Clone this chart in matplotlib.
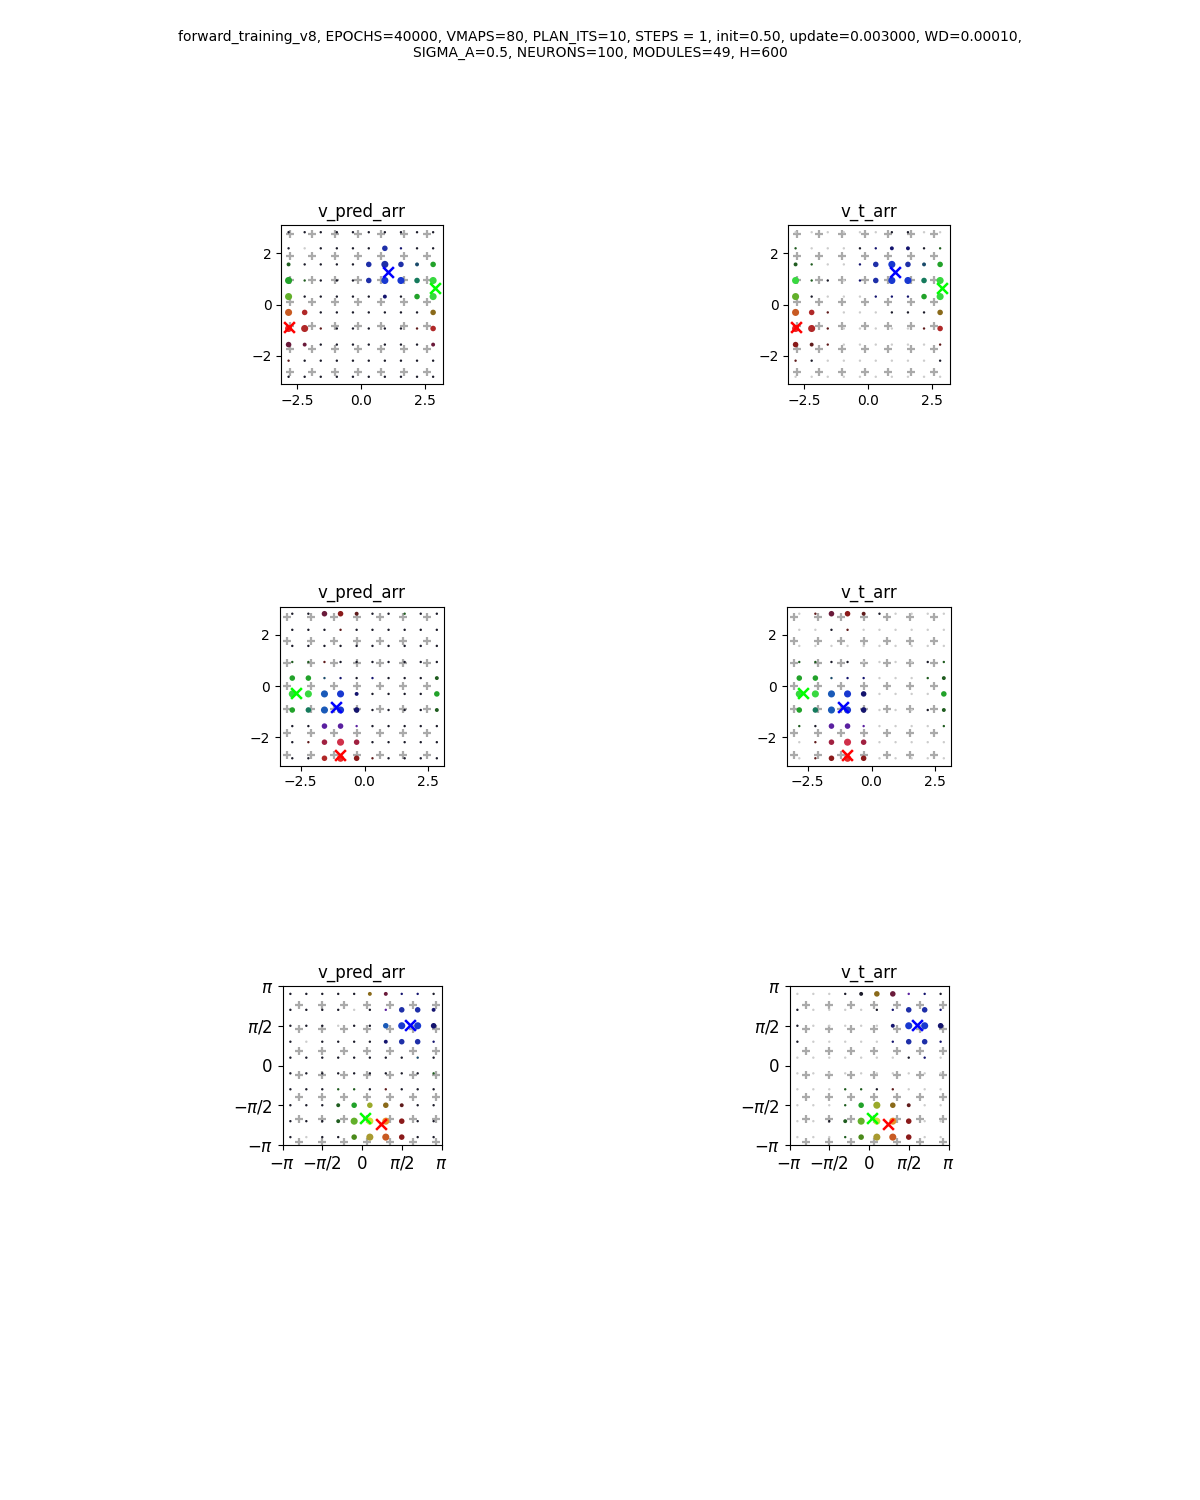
import numpy as np
import matplotlib
matplotlib.use("Agg")
import matplotlib.pyplot as plt

title = ("forward_training_v8, EPOCHS=40000, VMAPS=80, PLAN_ITS=10, STEPS = 1, init=0.50, "
         "update=0.003000, WD=0.00010,\nSIGMA_A=0.5, NEURONS=100, MODULES=49, H=600")

# sample positions (same on both axes)
grid = [-2.83, -2.20, -1.57, -0.94, -0.31, 0.31, 0.94, 1.57, 2.20, 2.83]

# goals per row: red, green, blue
goals_1 = [(-2.83, -0.89), (2.92, 0.65), (1.06, 1.27)]
goals_2 = [(-0.96, -2.72), (-2.70, -0.29), (-1.12, -0.83)]
goals_3 = [(0.74, -2.32), (0.13, -2.07), (1.88, 1.59)]

# module centres (7 x 7 lattice) per row
plus_x_1 = [-2.77, -1.92, -1.02, -0.12, 0.79, 1.69, 2.59]
plus_y_1 = [2.76, 1.90, 0.94, 0.10, -0.86, -1.74, -2.66]
plus_x_2 = [-3.03, -2.11, -1.18, -0.29, 0.59, 1.52, 2.44]
plus_y_2 = [2.69, 1.78, 0.90, 0.00, -0.92, -1.84, -2.69]
plus_x_3 = [-2.50, -1.60, -0.71, 0.20, 1.10, 2.00, 2.91]
plus_y_3 = [2.38, 1.46, 0.58, -0.36, -1.24, -2.13, -3.04]

# value maps, top row first: colour letter + size level
v_pred_1 = ["k1 k1 k1 k1 k1 k1 k1 k1 k1 k1",
            "k1 w1 k1 k1 k1 k1 b3 n1 k1 k1",
            "g2 k1 k1 k1 k1 b3 b4 b3 s2 G3",
            "G4 g1 k1 k1 k1 b3 B4 B4 t3 L4",
            "o4 k1 k1 k1 k1 k1 n2 k1 G3 L4",
            "u4 R3 k1 k1 k1 k1 k1 k1 k1 m3",
            "E4 R4 r1 k1 k1 k1 k1 k1 r1 R3",
            "v3 v2 k1 k1 k1 k1 k1 k1 k1 v2",
            "r1 k1 k1 k1 k1 k1 k1 k1 k1 k1",
            "k1 k1 k1 k1 k1 k1 k1 k1 k1 k1"]
v_t_1 = ["w1 w1 w1 w1 w1 w1 k1 k1 w1 w1",
         "g1 w1 w1 w1 k1 n1 n2 n2 k1 g1",
         "g2 g1 w1 w1 n1 b3 B4 b3 s2 G3",
         "L4 g1 k1 w1 n1 b3 B4 B4 t3 L4",
         "o4 k1 w1 w1 w1 n1 n1 n1 G3 L4",
         "u4 R3 r1 w1 w1 w1 k1 k1 k1 m3",
         "E4 R4 r1 w1 w1 w1 w1 w1 r1 R3",
         "d3 r2 r1 w1 w1 w1 w1 w1 w1 r1",
         "r1 k1 w1 w1 w1 w1 w1 w1 w1 k1",
         "w1 w1 w1 w1 w1 w1 w1 w1 w1 w1"]
v_pred_2 = ["k1 k1 v3 d3 r2 k1 k1 g1 k1 k1",
            "k1 k1 k1 r1 k1 k1 k1 k1 k1 k1",
            "k1 k1 k1 k1 k1 k1 k1 k1 k1 k1",
            "g1 g1 r1 k1 k1 k1 k1 k1 k1 k1",
            "G3 G3 s1 n1 k1 n1 k1 k1 k1 g2",
            "L4 L4 c4 B4 n2 k1 k1 k1 k1 G3",
            "G3 t3 c4 B4 n3 k1 k1 k1 k1 g2",
            "k1 k1 p3 p3 p1 k1 k1 k1 k1 k1",
            "k1 r1 q3 Q4 q3 k1 k1 k1 k1 k1",
            "k1 k1 R3 E4 d3 r1 k1 k1 k1 k1"]
v_t_2 = ["w1 r1 v3 d3 r2 k1 w1 w1 w1 w1",
         "w1 w1 k1 r1 w1 w1 w1 w1 w1 w1",
         "w1 w1 w1 w1 w1 w1 w1 w1 w1 w1",
         "g1 g1 k1 k1 w1 w1 w1 w1 k1 g1",
         "G3 G3 s1 n1 n1 w1 w1 w1 g1 g2",
         "L4 L4 c4 B4 n3 w1 w1 w1 w1 G3",
         "G3 t3 c4 B4 n3 w1 w1 w1 k1 g2",
         "g1 k1 p3 p3 p1 w1 w1 w1 w1 g1",
         "w1 r1 q3 Q4 q3 w1 w1 w1 w1 w1",
         "w1 r1 d3 E4 d3 w1 w1 w1 w1 w1"]
v_pred_3 = ["k1 k1 k1 k1 k1 m2 v2 n1 n1 k1",
            "k1 k1 k1 k1 w1 k1 p1 b3 b3 n2",
            "k1 k1 k1 w1 k1 k1 c3 B4 B4 n3",
            "k1 w1 k1 k1 k1 k1 n2 b3 b3 n1",
            "k1 k1 k1 k1 k1 k1 k1 k1 s1 k1",
            "k1 k1 k1 k1 k1 k1 k1 k1 k1 g1",
            "k1 k1 k1 g1 g1 k1 r1 k1 k1 k1",
            "k1 k1 k1 g2 G3 h3 m3 r2 k1 k1",
            "k1 k1 k1 g2 o4 y4 O4 d3 k1 k1",
            "k1 w1 k1 k1 e3 Y4 u4 d3 k1 k1"]
v_t_3 = ["w1 w1 w1 k1 k2 m3 v3 p1 n1 k1",
         "k1 w1 w1 w1 w1 k1 n1 b3 b3 n1",
         "k1 w1 w1 w1 w1 w1 n2 B4 B4 n3",
         "k1 w1 w1 w1 w1 w1 n1 b3 b3 n1",
         "w1 w1 w1 w1 w1 w1 w1 k1 n1 w1",
         "w1 w1 w1 w1 w1 w1 w1 w1 w1 w1",
         "w1 w1 w1 g1 g1 k1 r1 w1 w1 w1",
         "w1 w1 w1 g1 G3 h4 m3 r2 w1 w1",
         "w1 w1 k1 g2 o4 y4 O4 d3 w1 w1",
         "w1 w1 w1 g1 e3 Y4 u4 d3 w1 w1"]

palette = {'k': '#1c1c2a', 'w': '#cdcdcd', 'n': '#14146e', 'b': '#1e2fa8',
           'B': '#1838d0', 'c': '#1a5ab8', 'g': '#1f5c1f', 'G': '#22a22a',
           'L': '#38d840', 't': '#157a5c', 's': '#1a4a6a', 'o': '#62b02a',
           'y': '#cfe035', 'h': '#9aaa2a', 'Y': '#a89a30', 'O': '#e8902a',
           'u': '#c85a22', 'm': '#8a6a1a', 'r': '#5e1a1a', 'd': '#8a1a1a',
           'R': '#b02828', 'E': '#e82828', 'p': '#5a20a0', 'q': '#a02040',
           'Q': '#d0304a', 'v': '#6a1a3a', 'e': '#4a8a1a'}
sizes = {'1': 3, '2': 8, '3': 16, '4': 26}


def draw_panel(ax, cells, plus_x, plus_y, goals, name, pi_ticks=False):
    xs, ys, cs, ss = [], [], [], []
    for i, row in enumerate(cells):
        for j, tok in enumerate(row.split()):
            xs.append(grid[j])
            ys.append(grid[len(cells) - 1 - i])
            cs.append(palette[tok[0]])
            ss.append(sizes[tok[1]])
    mx, my = np.meshgrid(plus_x, plus_y)
    ax.scatter(mx.ravel(), my.ravel(), marker='+', c='#aaaaaa', s=26, linewidths=1.6, zorder=1)
    ax.scatter(xs, ys, c=cs, s=ss, linewidths=0, zorder=2)
    for (gx, gy), col in zip(goals, ['red', 'lime', 'blue']):
        ax.scatter([gx], [gy], marker='x', c=col, s=60, linewidths=1.8, zorder=3)
    ax.set_title(name)
    if pi_ticks:
        t = [-np.pi, -np.pi / 2, 0, np.pi / 2, np.pi]
        lab = [r'$-\pi$', r'$-\pi/2$', r'$0$', r'$\pi/2$', r'$\pi$']
        ax.set_xlim(-np.pi, np.pi)
        ax.set_ylim(-np.pi, np.pi)
        ax.set_xticks(t)
        ax.set_xticklabels(lab, fontsize=12)
        ax.set_yticks(t)
        ax.set_yticklabels(lab, fontsize=12)
    ax.set_aspect('equal', adjustable='box')


fig = plt.figure(figsize=(12, 15), dpi=100)
fig.suptitle(title, fontsize=10, y=0.98)

W, H = 1200.0, 1500.0
col_centres = [362, 869]
row_centres = [304.5, 686, 1065.5]
box_w, box_h = 422, 159

rows = [(v_pred_1, v_t_1, plus_x_1, plus_y_1, goals_1, False),
        (v_pred_2, v_t_2, plus_x_2, plus_y_2, goals_2, False),
        (v_pred_3, v_t_3, plus_x_3, plus_y_3, goals_3, True)]

for r, (pred, targ, px, py, goals, pit) in enumerate(rows):
    for c, (cells, name) in enumerate([(pred, 'v_pred_arr'), (targ, 'v_t_arr')]):
        rect = [(col_centres[c] - box_w / 2) / W, 1 - (row_centres[r] + box_h / 2) / H,
                box_w / W, box_h / H]
        ax = fig.add_axes(rect)
        draw_panel(ax, cells, px, py, goals, name, pit)

fig.savefig('out.png', dpi=100)
